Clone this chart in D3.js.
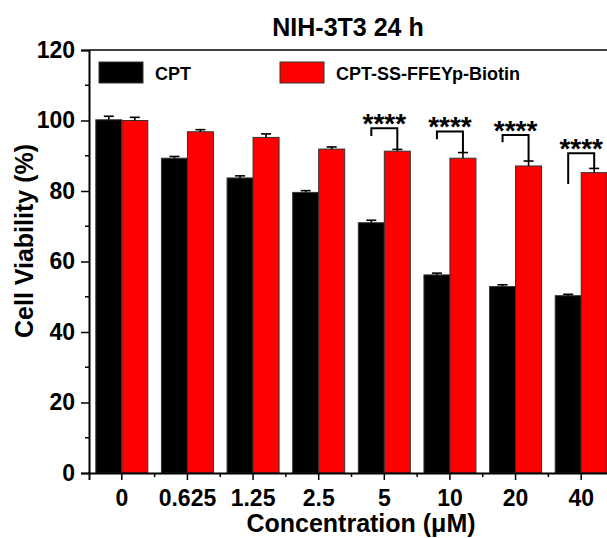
<!DOCTYPE html>
<html>
<head>
<meta charset="utf-8">
<script src="https://cdn.jsdelivr.net/npm/d3@7"></script>
<style>
  body { margin: 0; background: #fff; }
  svg { display: block; font-family: "Liberation Sans", Arial, sans-serif; font-weight: bold; }
</style>
</head>
<body>
<div id="chart"></div>
<script>
const concentrations = ["0", "0.625", "1.25", "2.5", "5", "10", "20", "40"];
const cptMean = [100.2, 89.3, 83.7, 79.6, 71.0, 56.2, 52.9, 50.3];
const cptErr = [1.0, 0.5, 0.6, 0.5, 0.7, 0.5, 0.5, 0.4];
const conjMean = [100.0, 96.8, 95.2, 91.9, 91.3, 89.3, 87.1, 85.2];
const conjErr = [0.9, 0.6, 1.0, 0.6, 0.5, 1.6, 1.4, 1.2];
const seriesNames = ["CPT", "CPT-SS-FFEYp-Biotin"];
const seriesColors = ["#000000", "#ff0000"];
const yTicks = [0, 20, 40, 60, 80, 100, 120];
// significance brackets: category, bracket top, left leg bottom (data units)
const sigCats = ["5", "10", "20", "40"];
const sigTop = [97.8, 96.9, 95.9, 90.7];
const sigLeftEnd = [95.6, 94.7, 93.8, 82.0];
const sigLabel = "****";

const width = 607, height = 538;
const margin = { left: 89, top: 50, bottom: 65 };
const plotRight = 614;

const svg = d3.select("#chart").append("svg")
  .attr("width", width).attr("height", height)
  .attr("viewBox", [0, 0, width, height]);

const x = d3.scaleBand().domain(concentrations).range([margin.left, plotRight]).padding(0);
const y = d3.scaleLinear().domain([0, 120]).range([height - margin.bottom, margin.top]);
const barW = 26;
const cx = (c) => x(c) + x.bandwidth() / 2;

const rows = concentrations.map((c, i) => [
  { c, s: 0, v: cptMean[i], e: cptErr[i] },
  { c, s: 1, v: conjMean[i], e: conjErr[i] }
]).flat();
const barX = (d) => (d.s === 0 ? cx(d.c) - barW : cx(d.c));

// bars
svg.append("g").selectAll("rect").data(rows).join("rect")
  .attr("x", barX)
  .attr("y", (d) => y(d.v))
  .attr("width", barW)
  .attr("height", (d) => y(0) - y(d.v))
  .attr("fill", (d) => seriesColors[d.s])
  .attr("stroke", "#333")
  .attr("stroke-width", 1);

// error bars (upper only)
const eb = svg.append("g").attr("stroke", "#000").attr("stroke-width", 1.6);
eb.selectAll("line.v").data(rows).join("line").attr("class", "v")
  .attr("x1", (d) => barX(d) + barW / 2).attr("x2", (d) => barX(d) + barW / 2)
  .attr("y1", (d) => y(d.v)).attr("y2", (d) => y(d.v + d.e));
eb.selectAll("line.cap").data(rows).join("line").attr("class", "cap")
  .attr("x1", (d) => barX(d) + barW / 2 - 5).attr("x2", (d) => barX(d) + barW / 2 + 5)
  .attr("y1", (d) => y(d.v + d.e)).attr("y2", (d) => y(d.v + d.e));

// significance brackets
const sig = sigCats.map((c, i) => {
  const k = concentrations.indexOf(c);
  return { c, top: sigTop[i], left: sigLeftEnd[i], right: conjMean[k] + conjErr[k] };
});
svg.append("g").selectAll("path").data(sig).join("path")
  .attr("fill", "none").attr("stroke", "#000").attr("stroke-width", 2)
  .attr("d", (d) => {
    const x1 = cx(d.c) - barW / 2, x2 = cx(d.c) + barW / 2;
    return `M${x1},${y(d.left)}V${y(d.top)}H${x2}V${y(d.right)}`;
  });
svg.append("g").selectAll("text").data(sig).join("text")
  .attr("x", (d) => cx(d.c))
  .attr("y", (d) => y(d.top) + 5)
  .attr("text-anchor", "middle")
  .attr("font-size", 28)
  .text(sigLabel);

// axes
const yAxis = d3.axisLeft(y).tickValues(yTicks).tickSize(8).tickPadding(6);
const gy = svg.append("g").attr("transform", `translate(${margin.left},0)`).call(yAxis);
gy.selectAll("text").attr("font-size", 23).attr("font-weight", "bold").attr("font-family", "Liberation Sans, Arial, sans-serif");
gy.select(".domain").attr("stroke-width", 2);
gy.selectAll(".tick line").attr("stroke-width", 1.5);
const yMinor = d3.range(10, 120, 20);
svg.append("g").selectAll("line").data(yMinor).join("line")
  .attr("x1", margin.left - 4).attr("x2", margin.left)
  .attr("y1", (d) => y(d)).attr("y2", (d) => y(d))
  .attr("stroke", "#000").attr("stroke-width", 1.5);

const xAxis = d3.axisBottom(x).tickSize(7).tickPadding(10);
const gx = svg.append("g").attr("transform", `translate(0,${y(0)})`).call(xAxis);
gx.selectAll("text").attr("font-size", 23).attr("font-weight", "bold").attr("font-family", "Liberation Sans, Arial, sans-serif");
gx.select(".domain").attr("stroke-width", 2);
gx.selectAll(".tick line").attr("stroke-width", 1.5);
svg.append("g").selectAll("line").data(concentrations.slice(1)).join("line")
  .attr("x1", (d) => x(d)).attr("x2", (d) => x(d))
  .attr("y1", y(0)).attr("y2", y(0) + 4)
  .attr("stroke", "#000").attr("stroke-width", 1.5);

// top frame
svg.append("line")
  .attr("x1", margin.left).attr("x2", plotRight)
  .attr("y1", y(120)).attr("y2", y(120))
  .attr("stroke", "#000").attr("stroke-width", 1.5);

// legend
const legendX = [99, 280];
const lg = svg.append("g").selectAll("g").data(seriesNames).join("g")
  .attr("transform", (d, i) => `translate(${legendX[i]},62)`);
lg.append("rect").attr("width", 44).attr("height", 21)
  .attr("fill", (d, i) => seriesColors[i]).attr("stroke", "#333").attr("stroke-width", 1);
lg.append("text").attr("x", 56).attr("y", 17.5).attr("font-size", 18).text((d) => d);

// titles
svg.append("text").attr("x", 348).attr("y", 36).attr("text-anchor", "middle")
  .attr("font-size", 25).text("NIH-3T3 24 h");
svg.append("text").attr("x", 361).attr("y", 532).attr("text-anchor", "middle")
  .attr("font-size", 25).text("Concentration (\u03bcM)");
svg.append("text").attr("transform", "rotate(-90)")
  .attr("x", -241).attr("y", 33).attr("text-anchor", "middle")
  .attr("font-size", 25).text("Cell Viability (%)");
</script>
</body>
</html>
